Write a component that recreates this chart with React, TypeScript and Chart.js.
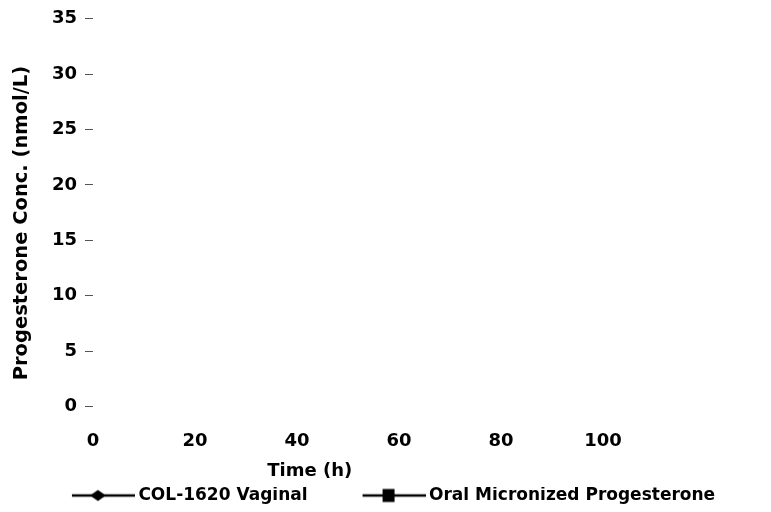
import { useEffect, useRef } from "react";
import { Chart, registerables } from "chart.js";

Chart.register(...registerables);

// ---- data (no data points are visible in the reference) ----
const timeHours: number[] = [];
const vaginalConc: number[] = [];
const oralConc: number[] = [];
const seriesNames = ["COL-1620 Vaginal", "Oral Micronized Progesterone"];
const xTickValues = [0, 20, 40, 60, 80, 100];
const yTickValues = [0, 5, 10, 15, 20, 25, 30, 35];
const xTitle = "Time (h)";
const yTitle = "Progesterone Conc. (nmol/L)";

const FONT = "'DejaVu Sans', 'Liberation Sans', sans-serif";

function makeSample(marker: "diamond" | "square"): HTMLCanvasElement {
  const c = document.createElement("canvas");
  c.width = 123;
  c.height = 16;
  const g = c.getContext("2d")!;
  g.strokeStyle = "#000";
  g.lineWidth = 2.5;
  g.beginPath();
  g.moveTo(60, 8);
  g.lineTo(123, 8);
  g.stroke();
  g.fillStyle = "#000";
  const cx = 86;
  if (marker === "diamond") {
    g.beginPath();
    g.moveTo(cx - 8, 8);
    g.lineTo(cx, 2.5);
    g.lineTo(cx + 8, 8);
    g.lineTo(cx, 13.5);
    g.closePath();
    g.fill();
  } else {
    g.fillRect(cx - 6, 1.5, 12, 13);
  }
  return c;
}

export default function App() {
  const ref = useRef<HTMLCanvasElement | null>(null);

  useEffect(() => {
    if (!ref.current) return;
    const samples = [makeSample("diamond"), makeSample("square")];

    const axisTitlesPlugin = {
      id: "axisTitlesPlugin",
      afterDraw(chart: any) {
        const xs = chart.scales.x;
        const area = chart.chartArea;
        const ctx = chart.ctx;
        ctx.save();
        ctx.fillStyle = "#000";
        ctx.textAlign = "center";
        ctx.textBaseline = "middle";
        ctx.font = `bold 18px ${FONT}`;
        ctx.fillText(xTitle, area.left + (area.right - area.left) * 0.425, xs.bottom - 16);
        ctx.translate(22, area.top + (area.bottom - area.top) * 0.527);
        ctx.rotate(-Math.PI / 2);
        ctx.font = `bold 19.5px ${FONT}`;
        ctx.fillText(yTitle, 0, 0);
        ctx.restore();
      },
    };

    const chart = new Chart(ref.current, {
      type: "line",
      data: {
        datasets: [
          {
            label: seriesNames[0],
            data: timeHours.map((t, i) => ({ x: t, y: vaginalConc[i] })),
            borderColor: "#000",
            backgroundColor: "#000",
            pointStyle: "rectRot",
          },
          {
            label: seriesNames[1],
            data: timeHours.map((t, i) => ({ x: t, y: oralConc[i] })),
            borderColor: "#000",
            backgroundColor: "#000",
            pointStyle: "rect",
          },
        ],
      },
      plugins: [axisTitlesPlugin],
      options: {
        animation: false,
        responsive: false,
        devicePixelRatio: 1,
        layout: { padding: { top: 15, right: 0, bottom: 0, left: 0 } },
        scales: {
          x: {
            type: "linear",
            min: 0,
            max: 100,
            afterBuildTicks: (s: any) => {
              s.ticks = xTickValues.map((v) => ({ value: v }));
            },
            afterFit: (s: any) => {
              s.height = s.height + 11;
            },
            grid: { display: false, drawTicks: false },
            border: { display: false },
            ticks: {
              padding: 24,
              color: "#000",
              font: { family: FONT, size: 18, weight: "bold" },
            },
            title: { display: false },
          },
          y: {
            type: "linear",
            min: 0,
            max: 35,
            afterBuildTicks: (s: any) => {
              s.ticks = yTickValues.map((v) => ({ value: v }));
            },
            afterFit: (s: any) => {
              s.width = 93;
            },
            grid: {
              display: true,
              drawOnChartArea: false,
              drawTicks: true,
              tickLength: 8,
              tickColor: "#555",
            },
            border: { display: false },
            ticks: {
              padding: 8,
              color: "#000",
              font: { family: FONT, size: 18, weight: "bold" },
            },
            title: { display: false },
          },
          yRightSpace: {
            type: "linear",
            position: "right",
            display: true,
            grid: { display: false, drawTicks: false },
            border: { display: false },
            ticks: { display: false },
            afterFit: (s: any) => {
              s.width = 129;
            },
          },
        },
        plugins: {
          tooltip: { enabled: false },
          legend: {
            position: "bottom",
            labels: {
              usePointStyle: true,
              pointStyleWidth: 113,
              padding: 0,
              color: "#000",
              font: { family: FONT, size: 17, weight: "bold" },
              generateLabels: (c: any) => {
                const items = (Chart.defaults as any).plugins.legend.labels.generateLabels(c);
                items.forEach((it: any, i: number) => {
                  it.pointStyle = samples[i];
                });
                return items;
              },
            },
          },
        },
      } as any,
    });
    return () => chart.destroy();
  }, []);

  return (
    <div style={{ position: "fixed", left: 0, top: 0, width: 771, height: 512, overflow: "hidden", background: "#fff" }}>
      <canvas ref={ref} width={732} height={514} style={{ width: 732, height: 514, display: "block" }} />
    </div>
  );
}
